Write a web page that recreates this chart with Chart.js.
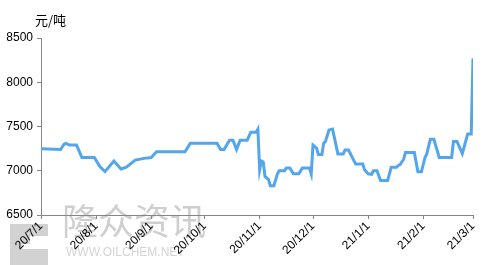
<!DOCTYPE html>
<html>
<head>
<meta charset="utf-8">
<script src="https://cdn.jsdelivr.net/npm/chart.js@4/dist/chart.umd.min.js"></script>
<style>
  html, body { margin: 0; padding: 0; background: #fff; }
  #wrap { width: 491px; height: 265px; position: relative; }
</style>
</head>
<body>
<div id="wrap"><canvas id="priceChart" width="491" height="265"></canvas></div>
<script>
// price points (date, yuan/ton)
const dates = [
  '2020-07-01', '2020-07-12', '2020-07-14', '2020-07-15', '2020-07-17', '2020-07-21', '2020-07-24', '2020-07-31',
  '2020-08-03', '2020-08-06', '2020-08-11', '2020-08-15', '2020-08-18', '2020-08-23', '2020-08-28',
  '2020-09-01', '2020-09-04', '2020-09-20', '2020-09-23',
  '2020-10-08', '2020-10-10', '2020-10-12', '2020-10-15', '2020-10-17', '2020-10-19', '2020-10-21', '2020-10-25',
  '2020-10-27', '2020-10-30', '2020-10-31',
  '2020-11-01', '2020-11-02', '2020-11-03', '2020-11-04', '2020-11-06', '2020-11-07', '2020-11-09', '2020-11-11',
  '2020-11-12', '2020-11-15', '2020-11-16', '2020-11-18', '2020-11-20', '2020-11-23', '2020-11-25', '2020-11-29',
  '2020-11-30',
  '2020-12-01', '2020-12-03', '2020-12-04', '2020-12-06', '2020-12-07', '2020-12-08', '2020-12-10', '2020-12-12',
  '2020-12-15', '2020-12-18', '2020-12-19', '2020-12-21', '2020-12-25', '2020-12-29', '2020-12-30',
  '2021-01-01', '2021-01-03', '2021-01-04', '2021-01-06', '2021-01-08', '2021-01-12', '2021-01-14', '2021-01-17',
  '2021-01-18', '2021-01-19', '2021-01-21', '2021-01-22', '2021-01-27', '2021-01-29', '2021-01-31',
  '2021-02-02', '2021-02-03', '2021-02-05', '2021-02-07', '2021-02-10', '2021-02-17', '2021-02-18', '2021-02-20',
  '2021-02-23', '2021-02-26', '2021-02-28',
  '2021-03-01'
];
const prices = [
  7250, 7240, 7300, 7310, 7290, 7290, 7150, 7150,
  7050, 6990, 7110, 7020, 7040, 7120, 7140,
  7150, 7215, 7215, 7310,
  7310, 7240, 7240, 7345, 7345, 7240, 7345, 7345,
  7435, 7435, 7470,
  7010, 7110, 7100, 6935, 6900, 6830, 6830, 6965,
  7000, 7000, 7030, 7030, 6965, 6965, 7030, 7030,
  6965,
  7290, 7255, 7185, 7185, 7310, 7330, 7460, 7470,
  7190, 7190, 7235, 7235, 7075, 7075, 7010,
  6965, 6960, 7000, 7000, 6890, 6890, 7040, 7040,
  7060, 7070, 7130, 7205, 7205, 6990, 6990,
  7150, 7190, 7355, 7355, 7150, 7150, 7330, 7330,
  7195, 7415, 7415,
  8270
];
const monthStarts = ['2020-07-01', '2020-08-01', '2020-09-01', '2020-10-01', '2020-11-01', '2020-12-01', '2021-01-01', '2021-02-01', '2021-03-01'];
const monthLabels = ['20/7/1', '20/8/1', '20/9/1', '20/10/1', '20/11/1', '20/12/1', '21/1/1', '21/2/1', '21/3/1'];
const yTicks = [6500, 7000, 7500, 8000, 8500];
const unitLabel = '元/吨';

function dayIndex(s) {
    const p = s.split('-').map(Number);
    return Math.round((Date.UTC(p[0], p[1] - 1, p[2]) - Date.UTC(2020, 6, 1)) / 86400000);
}
const points = dates.map((d, i) => ({ x: dayIndex(d), y: prices[i] }));
const monthDays = monthStarts.map(dayIndex);

const extras = {
    id: 'extras',
    beforeDraw(chart) {
        const c = chart.ctx;
        c.save();
        // watermark
        c.fillStyle = '#d2d2d2';
        c.fillRect(10, 224, 38, 41);
        c.fillStyle = '#fff';
        c.fillRect(30, 236, 18, 8);
        c.fillRect(22, 244, 26, 5);
        c.fillStyle = '#cfcfcf';
        c.font = '36px "Noto Sans CJK SC"';
        c.textBaseline = 'top';
        c.fillText('隆众资讯', 62, 203);
        c.fillStyle = '#d4d4d4';
        c.font = '12px "Liberation Sans"';
        c.fillText('WWW.OILCHEM.NET', 66, 247);
        c.restore();
    },
    afterDraw(chart) {
        const c = chart.ctx;
        c.save();
        c.fillStyle = '#000';
        c.font = '13px "Noto Sans CJK SC"';
        c.textBaseline = 'middle';
        c.fillText(unitLabel, 35, 20);
        c.restore();
    }
};

new Chart(document.getElementById('priceChart'), {
    type: 'line',
    data: {
        datasets: [{
            data: points,
            borderColor: '#54a6ec',
            borderWidth: 3,
            pointRadius: 0,
            tension: 0,
            fill: false
        }]
    },
    options: {
        responsive: false,
        animation: false,
        layout: { padding: { left: 0, right: 18, top: 38, bottom: 0 } },
        plugins: { legend: { display: false }, tooltip: { enabled: false } },
        scales: {
            x: {
                type: 'linear',
                min: monthDays[0],
                max: monthDays[monthDays.length - 1],
                afterBuildTicks(scale) {
                    scale.ticks = monthDays.map(v => ({ value: v }));
                },
                afterFit(scale) { scale.height = 50; },
                ticks: {
                    autoSkip: false,
                    maxRotation: 45,
                    minRotation: 45,
                    padding: 0,
                    color: '#000',
                    font: { family: 'Liberation Sans', size: 12 },
                    callback: (v) => monthLabels[monthDays.indexOf(v)]
                },
                grid: { drawOnChartArea: false, color: '#868686', tickLength: 4 },
                border: { color: '#868686', width: 1 }
            },
            y: {
                min: 6500,
                max: 8500,
                afterBuildTicks(scale) {
                    scale.ticks = yTicks.map(v => ({ value: v }));
                },
                afterFit(scale) { scale.width = 41; },
                ticks: {
                    padding: 4,
                    color: '#000',
                    font: { family: 'Liberation Sans', size: 12 },
                    callback: (v) => String(v)
                },
                grid: { drawOnChartArea: false, color: '#868686', tickLength: 4 },
                border: { color: '#868686', width: 1 }
            }
        }
    },
    plugins: [extras]
});
</script>
</body>
</html>
